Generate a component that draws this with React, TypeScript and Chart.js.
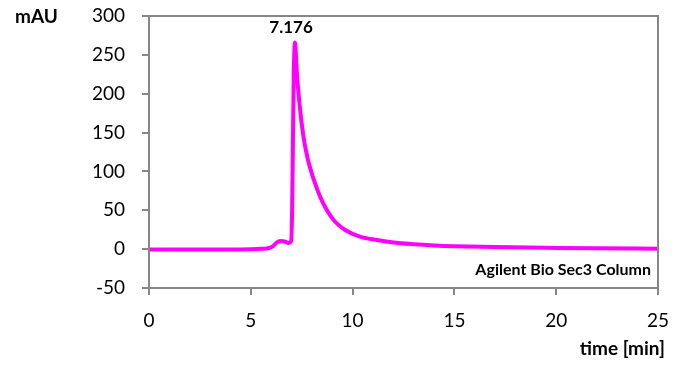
import React, { useEffect, useRef } from "react";
import { Chart, registerables } from "chart.js";

Chart.register(...registerables);

const timeMin = [0, 1, 2, 3, 4, 5, 5.5, 5.9, 6.1, 6.3, 6.5, 6.7, 6.85, 6.98, 7.03, 7.07, 7.11, 7.145, 7.176, 7.25, 7.38, 7.58, 7.79, 8.1, 8.48, 9.05, 9.62, 10.36, 11.2, 12, 13, 14, 15, 17, 20, 22, 25];
const mAU = [-0.5, -0.5, -0.5, -0.3, -0.3, 0, 0.5, 1.5, 4, 9, 10.5, 9.5, 8, 10, 50, 140, 225, 258, 266, 232, 190, 146, 117, 89, 63, 38, 25, 16, 11.7, 8.5, 6.3, 4.8, 3.8, 2.6, 1.6, 1.1, 0.6];
const xTicks = [0, 5, 10, 15, 20, 25];
const yTicks = [-50, 0, 50, 100, 150, 200, 250, 300];
const peakLabel = "7.176";
const peakTime = 7.176;
const peakValue = 266;
const yTitle = "mAU";
const xTitle = "time [min]";
const columnLabel = "Agilent Bio Sec3 Column";

const FONT = "Lato, 'Open Sans', sans-serif";
const GREY = "#868686";

export default function App() {
  const ref = useRef<HTMLCanvasElement>(null);
  useEffect(() => {
    document.body.style.margin = "0";
    const textPlugin = {
      id: "texts",
      afterDraw(chart: any) {
        const ctx = chart.ctx;
        const a = chart.chartArea;
        const xs = chart.scales.x;
        const ys = chart.scales.y;
        ctx.save();
        ctx.strokeStyle = GREY;
        ctx.lineWidth = 2;
        ctx.strokeRect(a.left, a.top, a.right - a.left, a.bottom - a.top);
        ctx.fillStyle = "#000";
        ctx.font = `bold 19px ${FONT}`;
        ctx.textBaseline = "middle";
        ctx.textAlign = "left";
        ctx.fillText(yTitle, 15, 17);
        ctx.textAlign = "right";
        ctx.fillText(xTitle, 665, 349);
        ctx.font = `bold 16px ${FONT}`;
        ctx.fillText(columnLabel, 651, 270);
        ctx.font = `bold 17px ${FONT}`;
        ctx.textAlign = "center";
        ctx.fillText(peakLabel, xs.getPixelForValue(peakTime) - 4, ys.getPixelForValue(peakValue) - 15);
        ctx.restore();
      },
    };
    const chart = new Chart(ref.current!, {
      type: "line",
      data: {
        datasets: [
          {
            data: timeMin.map((t, i) => ({ x: t, y: mAU[i] })),
            borderColor: "#FF00FF",
            borderWidth: 4,
            pointRadius: 0,
            cubicInterpolationMode: "monotone",
            fill: false,
          },
        ],
      },
      options: {
        responsive: false,
        animation: false,
        layout: { padding: { left: 0, right: 28, top: 16, bottom: 0 } },
        plugins: { legend: { display: false }, tooltip: { enabled: false } },
        scales: {
          x: {
            type: "linear",
            min: 0,
            max: 25,
            afterBuildTicks: (s: any) => {
              s.ticks = xTicks.map((v) => ({ value: v }));
            },
            afterFit: (s: any) => {
              s.height = 88;
              s.paddingLeft = 0;
              s.paddingRight = 0;
            },
            grid: { drawOnChartArea: false, drawTicks: true, tickLength: 7, color: GREY, lineWidth: 2 },
            border: { color: GREY, width: 2 },
            ticks: { color: "#000", font: { family: FONT, size: 19 }, padding: 14, maxRotation: 0 },
          },
          y: {
            type: "linear",
            min: -50,
            max: 300,
            afterBuildTicks: (s: any) => {
              s.ticks = yTicks.map((v) => ({ value: v }));
            },
            afterFit: (s: any) => {
              s.width = 149;
              s.paddingTop = 0;
              s.paddingBottom = 0;
            },
            grid: { drawOnChartArea: false, drawTicks: true, tickLength: 7, color: GREY, lineWidth: 2 },
            border: { color: GREY, width: 2 },
            ticks: { color: "#000", font: { family: FONT, size: 19 }, padding: 17 },
          },
        },
      },
      plugins: [textPlugin],
    });
    return () => chart.destroy();
  }, []);
  return (
    <div style={{ position: "absolute", left: 0, top: 0, width: 686, height: 376 }}>
      <canvas ref={ref} width={686} height={376} style={{ width: 686, height: 376 }} />
    </div>
  );
}
